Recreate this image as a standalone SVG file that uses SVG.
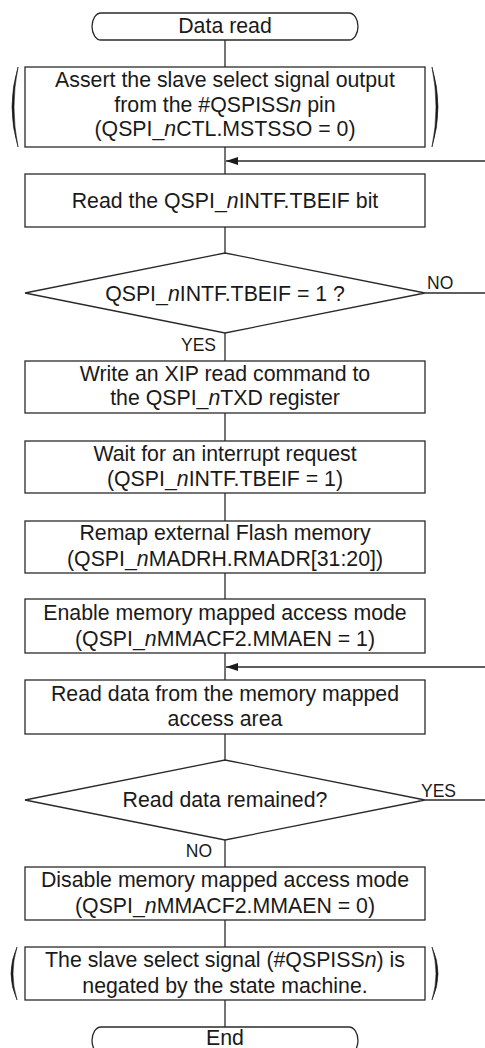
<svg xmlns="http://www.w3.org/2000/svg" width="485" height="1048" viewBox="0 0 485 1048">
<style>
.bx{fill:#fff;stroke:#2a2a2a;stroke-width:1.3}
.ln{fill:none;stroke:#2a2a2a;stroke-width:1.3}
.pr{fill:#1a1a1a;stroke:#1a1a1a;stroke-width:0.6}
.t{font-family:"Liberation Sans",Arial,sans-serif;font-size:21.3px;fill:#1a1a1a;text-anchor:middle}
.lb{font-family:"Liberation Sans",Arial,sans-serif;font-size:17.5px;fill:#1a1a1a}
.i{font-style:italic}
</style>
<defs>
<marker id="ah" viewBox="0 0 12 8" refX="12" refY="4" markerWidth="12" markerHeight="8" markerUnits="userSpaceOnUse" orient="auto">
<path d="M0,0 L12,4 L0,8 Z" fill="#1a1a1a"/>
</marker>
</defs>
<g id="connectors">
<line class="ln" x1="225" y1="40" x2="225" y2="67"/>
<line class="ln" x1="225" y1="147" x2="225" y2="174"/>
<line class="ln" x1="485" y1="161" x2="226" y2="161" marker-end="url(#ah)"/>
<line class="ln" x1="225" y1="227" x2="225" y2="253"/>
<line class="ln" x1="425" y1="293" x2="485" y2="293"/>
<line class="ln" x1="225" y1="333" x2="225" y2="361"/>
<line class="ln" x1="225" y1="413" x2="225" y2="441"/>
<line class="ln" x1="225" y1="493" x2="225" y2="521"/>
<line class="ln" x1="225" y1="573" x2="225" y2="599"/>
<line class="ln" x1="225" y1="653" x2="225" y2="680"/>
<line class="ln" x1="485" y1="667" x2="226" y2="667" marker-end="url(#ah)"/>
<line class="ln" x1="225" y1="734" x2="225" y2="760"/>
<line class="ln" x1="425" y1="800" x2="485" y2="800"/>
<line class="ln" x1="225" y1="840" x2="225" y2="867"/>
<line class="ln" x1="225" y1="920" x2="225" y2="947"/>
<line class="ln" x1="225" y1="1000" x2="225" y2="1027"/>
<text class="lb" x="427" y="289">NO</text>
<text class="lb" x="216" y="351" text-anchor="end">YES</text>
<text class="lb" x="421" y="797">YES</text>
<text class="lb" x="212" y="857" text-anchor="end">NO</text>
</g>
<g id="start">
<rect class="bx" x="92" y="13" width="266" height="27" rx="9" ry="13.5"/>
<text class="t" x="225" y="33">Data read</text>
</g>
<g id="assert">
<path class="pr" d="M18,67 Q6,107 18,147 Q10,107 18,67 Z"/>
<path class="pr" d="M432,67 Q444,107 432,147 Q440,107 432,67 Z"/>
<rect class="bx" x="25" y="67" width="400" height="80"/>
<text class="t" x="225" y="87">Assert the slave select signal output</text>
<text class="t" x="225" y="112">from the #QSPISS<tspan class="i">n</tspan> pin</text>
<text class="t" x="225" y="136">(QSPI_<tspan class="i">n</tspan>CTL.MSTSSO = 0)</text>
</g>
<g id="read-tbeif">
<rect class="bx" x="25" y="174" width="400" height="53"/>
<text class="t" x="225" y="208">Read the QSPI_<tspan class="i">n</tspan>INTF.TBEIF bit</text>
</g>
<g id="check-tbeif">
<polygon class="bx" points="225,253 425,293 225,333 25,293"/>
<text class="t" x="225" y="301">QSPI_<tspan class="i">n</tspan>INTF.TBEIF = 1 ?</text>
</g>
<g id="write-cmd">
<rect class="bx" x="25" y="361" width="400" height="52"/>
<text class="t" x="225" y="381">Write an XIP read command to</text>
<text class="t" x="225" y="405">the QSPI_<tspan class="i">n</tspan>TXD register</text>
</g>
<g id="wait-irq">
<rect class="bx" x="25" y="441" width="400" height="52"/>
<text class="t" x="225" y="461">Wait for an interrupt request</text>
<text class="t" x="225" y="486">(QSPI_<tspan class="i">n</tspan>INTF.TBEIF = 1)</text>
</g>
<g id="remap">
<rect class="bx" x="25" y="521" width="400" height="52"/>
<text class="t" x="225" y="540">Remap external Flash memory</text>
<text class="t" x="225" y="566">(QSPI_<tspan class="i">n</tspan>MADRH.RMADR[31:20])</text>
</g>
<g id="enable-mma">
<rect class="bx" x="25" y="599" width="400" height="54"/>
<text class="t" x="225" y="620">Enable memory mapped access mode</text>
<text class="t" x="225" y="646">(QSPI_<tspan class="i">n</tspan>MMACF2.MMAEN = 1)</text>
</g>
<g id="read-data">
<rect class="bx" x="25" y="680" width="400" height="54"/>
<text class="t" x="225" y="701">Read data from the memory mapped</text>
<text class="t" x="225" y="726">access area</text>
</g>
<g id="check-remain">
<polygon class="bx" points="225,760 425,800 225,840 25,800"/>
<text class="t" x="225" y="807">Read data remained?</text>
</g>
<g id="disable-mma">
<rect class="bx" x="25" y="867" width="400" height="53"/>
<text class="t" x="225" y="887">Disable memory mapped access mode</text>
<text class="t" x="225" y="913">(QSPI_<tspan class="i">n</tspan>MMACF2.MMAEN = 0)</text>
</g>
<g id="negate">
<path class="pr" d="M17,947 Q5,973.5 17,1000 Q9,973.5 17,947 Z"/>
<path class="pr" d="M432,947 Q444,973.5 432,1000 Q440,973.5 432,947 Z"/>
<rect class="bx" x="25" y="947" width="400" height="53"/>
<text class="t" x="225" y="967">The slave select signal (#QSPISS<tspan class="i">n</tspan>) is</text>
<text class="t" x="225" y="993">negated by the state machine.</text>
</g>
<g id="end">
<rect class="bx" x="92" y="1027" width="266" height="27" rx="9" ry="13.5"/>
<text class="t" x="225" y="1045">End</text>
</g>
</svg>
